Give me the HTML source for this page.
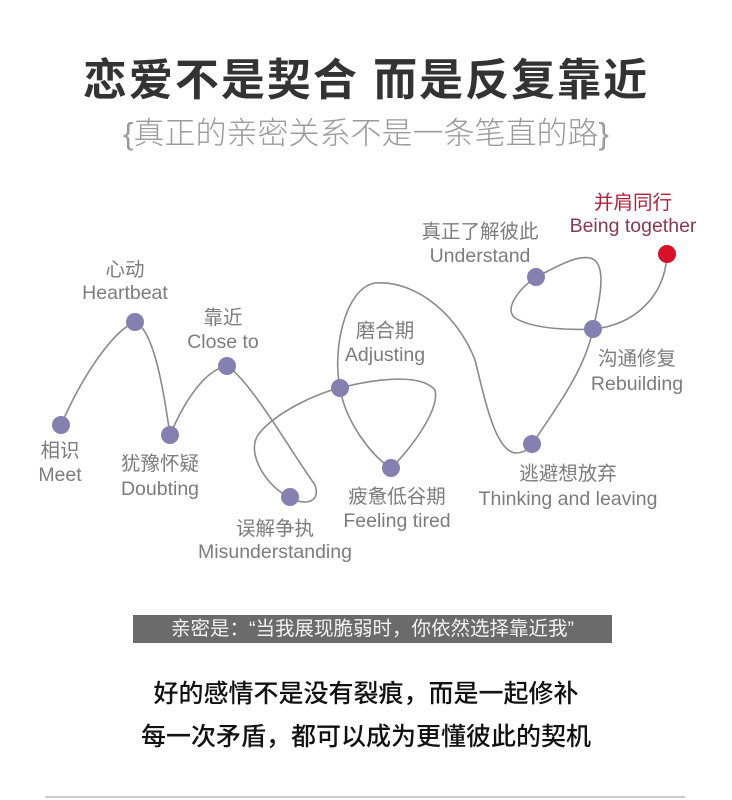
<!DOCTYPE html>
<html><head><meta charset="utf-8"><style>
html,body{margin:0;padding:0;background:#fff;}
body{width:732px;height:800px;position:relative;overflow:hidden;font-family:"Liberation Sans","Noto Sans CJK SC",sans-serif;}
.t{position:absolute;left:0;width:732px;text-align:center;}
</style></head><body>
<div class="t" style="top:44px;font-size:44px;font-weight:bold;color:#333;letter-spacing:2px;">恋爱不是契合 而是反复靠近</div>
<div class="t" style="top:108px;font-size:31px;color:#9a9a9a;font-weight:300;">{真正的亲密关系不是一条笔直的路}</div>
<svg width="732" height="600" style="position:absolute;left:0;top:0" xmlns="http://www.w3.org/2000/svg">
<path d="M61,425 C85,370 115,330 135,322 C155,330 165,400 170,435 C185,400 205,370 227,366 C250,380 290,450 315,485 C322,505 300,505 290,497 C270,490 245,455 258,435 C275,412 320,392 340,388 C370,380 420,372 435,390 C440,410 410,450 391,468 C370,455 345,420 340,388 C332,350 345,288 375,283 C420,280 460,320 475,360 C485,400 495,450 515,453 C525,453 530,448 532,444 C555,410 585,370 593,329 C600,300 608,262 590,258 C575,255 555,268 536,277 C515,292 505,310 515,318 C535,330 575,330 593,329 C630,326 665,300 667,254" fill="none" stroke="#8a8a8a" stroke-width="1.6"/>
<g fill="#8580b0">
<circle cx="61" cy="425" r="9"/><circle cx="135" cy="322" r="9"/><circle cx="170" cy="435" r="9"/><circle cx="227" cy="366" r="9"/><circle cx="290" cy="497" r="9"/><circle cx="340" cy="388" r="9"/><circle cx="391" cy="468" r="9"/><circle cx="532" cy="444" r="9"/><circle cx="593" cy="329" r="9"/><circle cx="536" cy="277" r="9"/>
</g>
<circle cx="667" cy="254" r="9" fill="#d8102a"/>
<g font-family="Liberation Sans, Noto Sans CJK SC, sans-serif" font-size="19.5" fill="#7c7c7c" text-anchor="middle">
<text x="125" y="276">心动</text><text x="125" y="299">Heartbeat</text>
<text x="223" y="324">靠近</text><text x="223" y="348">Close to</text>
<text x="60" y="457">相识</text><text x="60" y="481">Meet</text>
<text x="160" y="470">犹豫怀疑</text><text x="160" y="495">Doubting</text>
<text x="275" y="535">误解争执</text><text x="275" y="558">Misunderstanding</text>
<text x="385" y="337">磨合期</text><text x="385" y="361">Adjusting</text>
<text x="397" y="503">疲惫低谷期</text><text x="397" y="527">Feeling tired</text>
<text x="568" y="480">逃避想放弃</text><text x="568" y="505">Thinking and leaving</text>
<text x="480" y="238">真正了解彼此</text><text x="480" y="262">Understand</text>
<text x="637" y="365">沟通修复</text><text x="637" y="390">Rebuilding</text>
<text x="633" y="209" fill="#b0203a">并肩同行</text><text x="633" y="232" fill="#8a3850">Being together</text>
</g>
</svg>
<div style="position:absolute;left:133px;top:615px;width:479px;height:28px;background:#6b6b6b;color:#f2f2f2;font-size:19.5px;line-height:28px;text-align:center;white-space:nowrap;">亲密是：“当我展现脆弱时，你依然选择靠近我”</div>
<div class="t" style="top:674px;font-size:25px;font-weight:500;color:#111;">好的感情不是没有裂痕，而是一起修补</div>
<div class="t" style="top:717px;font-size:25px;font-weight:500;color:#111;">每一次矛盾，都可以成为更懂彼此的契机</div>
<div style="position:absolute;left:45px;top:796px;width:640px;height:2px;background:#ccc;"></div>
</body></html>
